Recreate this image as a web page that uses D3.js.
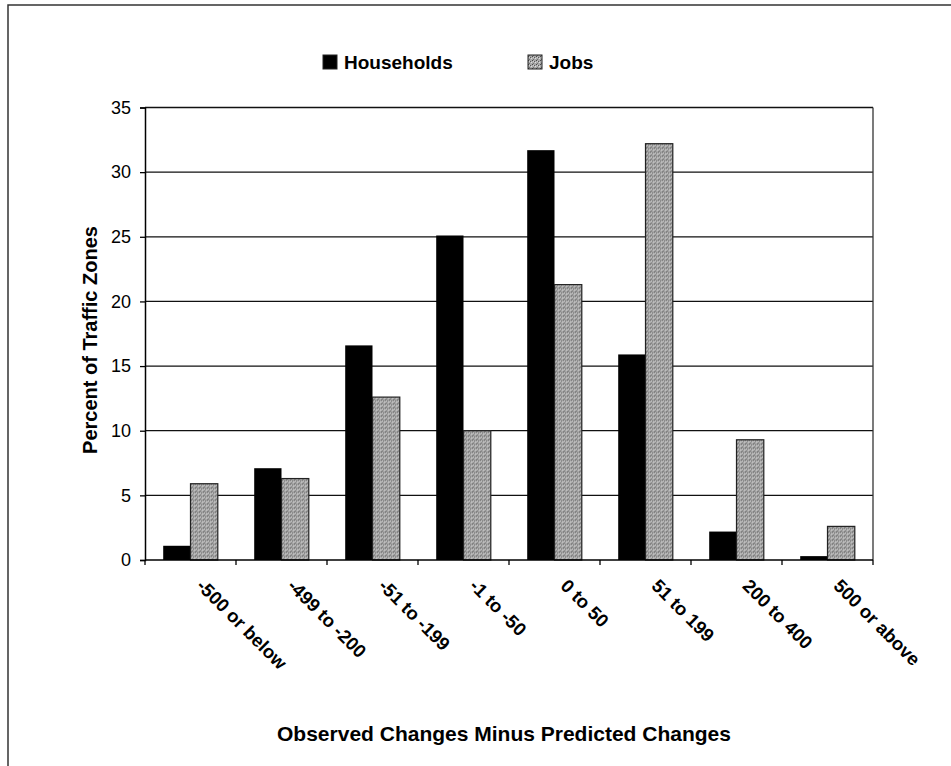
<!DOCTYPE html>
<html>
<head>
<meta charset="utf-8">
<script src="https://cdn.jsdelivr.net/npm/d3@7"></script>
<style>
  body { margin: 0; background: #fff; }
  svg { display: block; font-family: "Liberation Sans", Arial, sans-serif; }
  .tick text { font-size: 18px; fill: #000; }
</style>
</head>
<body>
<div id="chart"></div>
<script>
var categories = ["-500 or below", "-499 to -200", "-51 to -199", "-1 to -50",
                  "0 to 50", "51 to 199", "200 to 400", "500 or above"];
var households = [1.1, 7.1, 16.6, 25.1, 31.7, 15.9, 2.2, 0.3];
var jobs       = [5.9, 6.3, 12.6, 10.0, 21.3, 32.2, 9.3, 2.6];
var seriesNames = ["Households", "Jobs"];
var yTicks = [0, 5, 10, 15, 20, 25, 30, 35];

var W = 951, H = 766;
var margin = {top: 107.5, right: 78, bottom: 206, left: 145},
    width = W - margin.left - margin.right,
    height = H - margin.top - margin.bottom;

var svg = d3.select("#chart").append("svg")
  .attr("width", W)
  .attr("height", H);

// stippled grey for Jobs
var defs = svg.append("defs");
var pat = defs.append("pattern")
  .attr("id", "stipple")
  .attr("patternUnits", "userSpaceOnUse")
  .attr("width", 4).attr("height", 4);
pat.append("rect").attr("width", 4).attr("height", 4).attr("fill", "#a9a9a9");
pat.append("rect").attr("x", 0).attr("y", 0).attr("width", 1).attr("height", 1).attr("fill", "#4a4a4a");
pat.append("rect").attr("x", 2).attr("y", 1).attr("width", 1).attr("height", 1).attr("fill", "#5a5a5a");
pat.append("rect").attr("x", 1).attr("y", 3).attr("width", 1).attr("height", 1).attr("fill", "#707070");
pat.append("rect").attr("x", 3).attr("y", 2).attr("width", 1).attr("height", 1).attr("fill", "#dedede");
pat.append("rect").attr("x", 1).attr("y", 1).attr("width", 1).attr("height", 1).attr("fill", "#d0d0d0");

// page frame (top and left edges only, like the scan)
svg.append("path")
  .attr("d", "M8,766V5H951")
  .attr("fill", "none")
  .attr("stroke", "#333")
  .attr("stroke-width", 1.5);

var g = svg.append("g")
  .attr("transform", "translate(" + margin.left + "," + margin.top + ")");

var x0 = d3.scaleBand().domain(categories).range([0, width]).paddingInner(0.4).paddingOuter(0.2);
var xCat = d3.scaleBand().domain(categories).range([0, width]);
var x1 = d3.scaleBand().domain(seriesNames).range([0, x0.bandwidth()]);
var y = d3.scaleLinear().domain([0, 35]).range([height, 0]);

// gridlines
g.append("g")
  .selectAll("line")
  .data(yTicks.slice(1))
  .enter().append("line")
  .attr("x1", 0).attr("x2", width)
  .attr("y1", function(d) { return y(d); })
  .attr("y2", function(d) { return y(d); })
  .attr("stroke", "#111")
  .attr("stroke-width", 1.3);

// right border of plot
g.append("line")
  .attr("x1", width).attr("x2", width)
  .attr("y1", 0).attr("y2", height)
  .attr("stroke", "#333").attr("stroke-width", 1.3);

// bars
var groups = g.selectAll(".cat")
  .data(categories)
  .enter().append("g")
  .attr("transform", function(d) { return "translate(" + x0(d) + ",0)"; });

groups.append("rect")
  .attr("x", x1("Households"))
  .attr("width", x1.bandwidth())
  .attr("y", function(d, i) { return y(households[i]); })
  .attr("height", function(d, i) { return height - y(households[i]); })
  .attr("fill", "#000");

groups.append("rect")
  .attr("x", x1("Jobs"))
  .attr("width", x1.bandwidth())
  .attr("y", function(d, i) { return y(jobs[i]); })
  .attr("height", function(d, i) { return height - y(jobs[i]); })
  .attr("fill", "url(#stipple)")
  .attr("stroke", "#222")
  .attr("stroke-width", 1.2);

// y axis
var yAxis = g.append("g")
  .call(d3.axisLeft(y).tickValues(yTicks).tickSize(5).tickPadding(9));
yAxis.select(".domain").attr("stroke", "#000").attr("stroke-width", 1.5);
yAxis.selectAll(".tick line").attr("stroke", "#000").attr("stroke-width", 1.3);

// x axis: ticks at category boundaries
var xAxis = g.append("g").attr("transform", "translate(0," + height + ")");
xAxis.append("line")
  .attr("x1", 0).attr("x2", width)
  .attr("stroke", "#000").attr("stroke-width", 1.5);
xAxis.selectAll(".xt")
  .data(categories.concat(["end"]))
  .enter().append("line")
  .attr("x1", function(d, i) { return i * xCat.step(); })
  .attr("x2", function(d, i) { return i * xCat.step(); })
  .attr("y1", 0).attr("y2", 5)
  .attr("stroke", "#000").attr("stroke-width", 1.3);

xAxis.selectAll(".xl")
  .data(categories)
  .enter().append("text")
  .attr("transform", function(d) {
    return "translate(" + (xCat(d) + xCat.bandwidth() / 2 + 5) + ",27) rotate(45)";
  })
  .attr("font-size", 18.5)
  .attr("font-weight", "bold")
  .text(function(d) { return d; });

// axis titles
svg.append("text")
  .attr("transform", "translate(97,340) rotate(-90)")
  .attr("text-anchor", "middle")
  .attr("font-size", 20)
  .attr("font-weight", "bold")
  .text("Percent of Traffic Zones");

svg.append("text")
  .attr("x", 504)
  .attr("y", 741)
  .attr("text-anchor", "middle")
  .attr("font-size", 21)
  .attr("font-weight", "bold")
  .text("Observed Changes Minus Predicted Changes");

// legend
var legend = svg.append("g");
var legX = [323, 528];
legend.selectAll("rect")
  .data(seriesNames)
  .enter().append("rect")
  .attr("x", function(d, i) { return legX[i]; })
  .attr("y", 55)
  .attr("width", 14).attr("height", 14)
  .attr("fill", function(d, i) { return i === 0 ? "#000" : "url(#stipple)"; })
  .attr("stroke", "#222").attr("stroke-width", 1);
legend.selectAll("text")
  .data(seriesNames)
  .enter().append("text")
  .attr("x", function(d, i) { return legX[i] + 21; })
  .attr("y", 69)
  .attr("font-size", 19)
  .attr("font-weight", "bold")
  .text(function(d) { return d; });
</script>
</body>
</html>
